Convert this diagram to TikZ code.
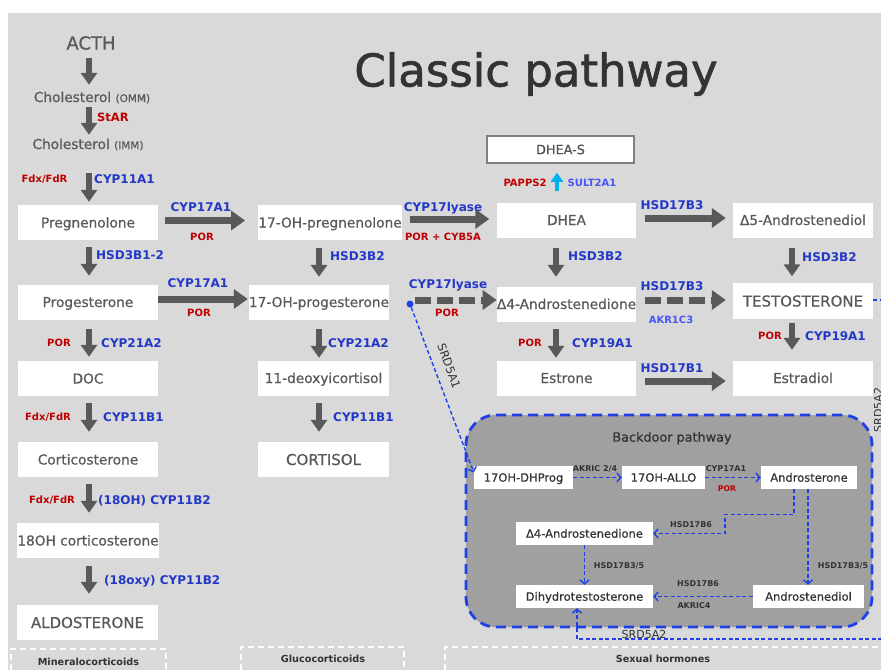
\documentclass[tikz,border=0pt]{standalone}
\usepackage{fontspec}
\setmainfont{DejaVu Sans}
\newfontfamily\medfont{DejaVu Sans}[FakeBold=0.6]
\newfontfamily\heavyfont{DejaVu Sans}[FakeBold=1.4]
\usetikzlibrary{arrows.meta}
\definecolor{bggray}{HTML}{D9D9D9}
\definecolor{txt}{HTML}{595959}
\definecolor{dtxt}{HTML}{333333}
\definecolor{agray}{HTML}{595959}
\definecolor{lblue}{HTML}{2438C8}
\definecolor{sblue}{HTML}{4A55F5}
\definecolor{lred}{HTML}{C00000}
\definecolor{bdblue}{HTML}{1E40E6}
\definecolor{bdfill}{HTML}{A0A0A0}
\definecolor{cyanarr}{HTML}{00B0F0}
\definecolor{boxedge}{HTML}{7F7F7F}
\newcommand{\fsz}[1]{\fontsize{#1}{#1}\selectfont}
\begin{document}
\begin{tikzpicture}[x=1pt,y=-1pt,
  box/.style={fill=white, text=txt, inner sep=0pt, minimum width=140pt, minimum height=35pt, font=\medfont\fsz{13.7}, text height=10pt, text depth=0pt},
  bigbox/.style={box, font=\medfont\fsz{15}, text height=11pt},
  bbox/.style={fill=white, text=dtxt, inner sep=0pt, minimum height=23pt, font=\medfont\fsz{11.5}, text height=8.4pt, text depth=0pt},
  plain/.style={text=txt, inner sep=0pt, font=\medfont\fsz{13.7}, text height=10pt, text depth=0pt},
  blab/.style={text=lblue, inner sep=0pt, font=\bfseries\fsz{12}, text height=8.75pt, text depth=0pt},
  rlab/.style={text=lred, inner sep=0pt, font=\bfseries\fsz{10}, text height=7.3pt, text depth=0pt},
  slab/.style={text=dtxt, inner sep=0pt, font=\bfseries\fsz{8}, text height=5.8pt, text depth=0pt},
  catbox/.style={draw=white, line width=1.8pt, dash pattern=on 6pt off 4pt},
  cattext/.style={text=dtxt, inner sep=0pt, font=\bfseries\fsz{9.7}, text height=7pt, text depth=0pt},
  varr/.style={draw=agray, line width=6pt, -{Triangle[length=12pt,width=16pt]}},
  harr/.style={draw=agray, line width=7pt, -{Triangle[length=14pt,width=19pt]}},
  dharr/.style={harr, dash pattern=on 16pt off 6pt},
  barr/.style={draw=bdblue, line width=1.4pt, dash pattern=on 4pt off 2.5pt, -{Straight Barb[length=4pt,width=9pt]}}
]
\useasboundingbox (0,0) rectangle (881,670);
\fill[white] (0,0) rectangle (881,670);
\fill[bggray] (8,13) rectangle (881,670);

% title
\node[text=dtxt, font=\heavyfont\fsz{45}, inner sep=0pt, text height=32.8pt, text depth=0pt] (title) at (536,70) {Classic pathway};

% category boxes
\draw[catbox] (11,680) -- (11,649) -- (166,649) -- (166,680);
\node[cattext] (mineral) at (88.5,662) {Mineralocorticoids};
\draw[catbox] (241,680) -- (241,647) -- (404,647) -- (404,680);
\node[cattext] (gluco) at (323,659) {Glucocorticoids};
\draw[catbox] (445,680) -- (445,647) -- (890,647);
\node[cattext] (sexual) at (663,659) {Sexual hormones};

% backdoor container
\node[draw=bdblue, fill=bdfill, line width=2.8pt, dash pattern=on 10pt off 6pt, rounded corners=30pt, minimum width=406pt, minimum height=212pt, inner sep=0pt] (backdoor) at (669,521) {};
\node[text=dtxt, font=\medfont\fsz{12.8}, inner sep=0pt, text height=9.3pt, text depth=0pt] (bdtitle) at (672,437) {Backdoor pathway};

% left column
\node[plain, font=\medfont\fsz{18}, text height=13.1pt] (acth) at (91,43) {ACTH};
\node[plain] (chol1) at (92,97) {Cholesterol {\fsz{10.5}(OMM)}};
\node[plain] (chol2) at (88,144) {Cholesterol {\fsz{10.5}(IMM)}};
\node[box] (preg) at (88,222.5) {Pregnenolone};
\node[box] (prog) at (88,302) {Progesterone};
\node[box] (doc) at (88,378.5) {DOC};
\node[box] (cort) at (88,459.5) {Corticosterone};
\node[box] (oh18) at (88,540.5) {18OH corticosterone};
\node[bigbox, minimum width=141pt] (aldo) at (87.5,622.5) {ALDOSTERONE};

% middle column
\node[box] (ohpreg) at (330,222.5) {17-OH-pregnenolone};
\node[box] (ohprog) at (319,302) {17-OH-progesterone};
\node[box, minimum width=131pt] (deoxy) at (323.5,378) {11-deoxyicortisol};
\node[bigbox, minimum width=131pt] (cortisol) at (323.5,459.5) {CORTISOL};

% right part
\node[box, draw=boxedge, line width=1.5pt, minimum width=147pt, minimum height=27pt, font=\medfont\fsz{12.8}, text height=9.3pt, text=dtxt!85!white] (dheas) at (560.5,149.5) {DHEA-S};
\node[box, minimum width=139pt] (dhea) at (566.5,220) {DHEA};
\node[box] (d5) at (803,220) {Δ5-Androstenediol};
\node[box, minimum width=139pt] (d4) at (566.5,304) {Δ4-Androstenedione};
\node[bigbox, minimum height=36pt] (testo) at (803,301) {TESTOSTERONE};
\node[box, minimum width=139pt] (estrone) at (566.5,378) {Estrone};
\node[box] (estradiol) at (803,378) {Estradiol};

% backdoor nodes
\node[bbox, minimum width=99pt] (dhprog) at (523.5,477.5) {17OH-DHProg};
\node[bbox, minimum width=83pt] (allo) at (663.5,477.5) {17OH-ALLO};
\node[bbox, minimum width=96pt] (andro) at (809,477.5) {Androsterone};
\node[bbox, minimum width=137pt] (d4b) at (584.5,533.5) {Δ4-Androstenedione};
\node[bbox, minimum width=137pt] (dht) at (584.5,596.5) {Dihydrotestosterone};
\node[bbox, minimum width=111pt] (andiol) at (808.5,596.5) {Androstenediol};
\node[circle, fill=bdblue, inner sep=0pt, minimum size=7pt] (dot) at (410,304) {};

% labels left
\node[rlab, anchor=west, font=\bfseries\fsz{11.5}, text height=8.4pt] (l1) at (97,117) {StAR};
\node[rlab] (l2) at (44.5,179) {Fdx/FdR};
\node[blab, anchor=west] (l3) at (94,179) {CYP11A1};
\node[blab] (l4) at (201,207) {CYP17A1};
\node[rlab] (l5) at (202,237) {POR};
\node[blab, anchor=west] (l6) at (96,255) {HSD3B1-2};
\node[blab] (l7) at (198,283) {CYP17A1};
\node[rlab] (l8) at (199,313) {POR};
\node[rlab] (l9) at (59,343) {POR};
\node[blab, anchor=west] (l10) at (101,343) {CYP21A2};
\node[rlab] (l11) at (48,417) {Fdx/FdR};
\node[blab, anchor=west] (l12) at (103,417) {CYP11B1};
\node[rlab] (l13) at (52,500) {Fdx/FdR};
\node[blab, anchor=west] (l14) at (98,500) {(18OH) CYP11B2};
\node[blab, anchor=west] (l15) at (104,580) {(18oxy) CYP11B2};

% labels middle
\node[blab, anchor=west] (m1) at (330,256) {HSD3B2};
\node[blab, anchor=west] (m2) at (328,343) {CYP21A2};
\node[blab, anchor=west] (m3) at (333,417) {CYP11B1};
\node[blab] (m4) at (443,207) {CYP17lyase};
\node[rlab] (m5) at (443,237) {POR + CYB5A};
\node[blab] (m6) at (448,284) {CYP17lyase};
\node[rlab] (m7) at (447,313) {POR};
\node[text=dtxt, font=\fsz{11.5}, inner sep=0pt, rotate=-70] (m8) at (449,366) {SRD5A1};

% labels right
\node[rlab] (r1) at (525,183) {PAPPS2};
\node[rlab, text=sblue] (r2) at (592,183) {SULT2A1};
\node[blab] (r3) at (672,205) {HSD17B3};
\node[blab, anchor=west] (r4) at (568,256) {HSD3B2};
\node[blab, anchor=west] (r5) at (802,257) {HSD3B2};
\node[blab] (r6) at (672,286) {HSD17B3};
\node[rlab, text=sblue] (r7) at (671,320) {AKR1C3};
\node[rlab] (r8) at (530,343) {POR};
\node[blab, anchor=west] (r9) at (572,343) {CYP19A1};
\node[blab] (r10) at (672,368) {HSD17B1};
\node[rlab] (r11) at (770,336) {POR};
\node[blab, anchor=west] (r12) at (805,336) {CYP19A1};
\node[text=dtxt, font=\fsz{11}, inner sep=0pt, rotate=90] (r13) at (878,410) {SRD5A2};

% labels backdoor
\node[slab] (b1) at (595,469) {AKRIC 2/4};
\node[slab] (b2) at (726,469) {CYP17A1};
\node[rlab, font=\bfseries\fsz{7.8}, text height=5.7pt] (b3) at (727,489) {POR};
\node[slab] (b4) at (691,525) {HSD17B6};
\node[slab] (b5) at (619,566) {HSD17B3/5};
\node[slab] (b6) at (843,566) {HSD17B3/5};
\node[slab] (b7) at (698,584) {HSD17B6};
\node[slab] (b8) at (694,606) {AKRIC4};
\node[text=dtxt, font=\fsz{11}, inner sep=0pt, text height=8pt, text depth=0pt] (b9) at (644,634) {SRD5A2};

% vertical arrows left
\draw[varr] ([xshift=-2pt,yshift=-8.5pt]acth.south) -- ([xshift=-3pt,yshift=7pt]chol1.north);
\draw[varr] ([xshift=-3pt,yshift=-5pt]chol1.south) -- ([xshift=1pt,yshift=4pt]chol2.north);
\draw[varr] ([xshift=1pt,yshift=-24pt]chol2.south) -- ([xshift=1pt,yshift=3pt]preg.north);
\draw[varr] ([xshift=1pt,yshift=-7pt]preg.south) -- ([xshift=1pt,yshift=8.5pt]prog.north);
\draw[varr] ([xshift=1pt,yshift=-9.5pt]prog.south) -- ([xshift=1pt,yshift=4pt]doc.north);
\draw[varr] ([xshift=1pt,yshift=-7pt]doc.south) -- ([xshift=1pt,yshift=10pt]cort.north);
\draw[varr] ([xshift=1pt,yshift=-7pt]cort.south) -- ([xshift=1pt,yshift=10pt]oh18.north);
\draw[varr] ([xshift=1pt,yshift=-8pt]oh18.south) -- ([xshift=1.5pt,yshift=11pt]aldo.north);

% vertical arrows middle
\draw[varr] ([xshift=-11pt,yshift=-8pt]ohpreg.south) -- ([yshift=7.5pt]ohprog.north);
\draw[varr] ([yshift=-9.5pt]ohprog.south) -- ([xshift=-4.5pt,yshift=2.5pt]deoxy.north);
\draw[varr] ([xshift=-4.5pt,yshift=-7.5pt]deoxy.south) -- ([xshift=-4.5pt,yshift=10pt]cortisol.north);

% vertical arrows right
\draw[varr] ([xshift=-10.5pt,yshift=-10.5pt]dhea.south) -- ([xshift=-10.5pt,yshift=9.5pt]d4.north);
\draw[varr] ([xshift=-10.5pt,yshift=-7.5pt]d4.south) -- ([xshift=-10.5pt,yshift=2.5pt]estrone.north);
\draw[varr] ([xshift=-11pt,yshift=-10.5pt]d5.south) -- ([xshift=-11pt,yshift=6.5pt]testo.north);
\draw[varr] ([xshift=-11pt,yshift=-3.5pt]testo.south) -- ([xshift=-11pt,yshift=10.5pt]estradiol.north);
\draw[draw=cyanarr, line width=4pt, -{Triangle[length=9pt,width=12pt]}] ([xshift=-9.5pt,yshift=11pt]dhea.north) -- ([xshift=-3.5pt,yshift=-9pt]dheas.south);

% horizontal arrows
\draw[harr] ([xshift=7pt,yshift=2pt]preg.east) -- ([xshift=-13pt,yshift=2pt]ohpreg.west);
\draw[harr] ([yshift=3pt]prog.east) -- ([xshift=-1pt,yshift=3pt]ohprog.west);
\draw[harr] ([xshift=8pt,yshift=3.5pt]ohpreg.east) -- ([xshift=-7.5pt,yshift=1pt]dhea.west);
\draw[harr] ([xshift=8.5pt,yshift=2pt]dhea.east) -- ([xshift=-7pt,yshift=2pt]d5.west);
\draw[dharr] ([xshift=26pt,yshift=2pt]ohprog.east) -- ([yshift=4pt]d4.west);
\draw[dharr] ([xshift=8.5pt,yshift=4pt]d4.east) -- ([xshift=-7pt,yshift=1pt]testo.west);
\draw[harr] ([xshift=8.5pt,yshift=-3pt]estrone.east) -- ([xshift=-7pt,yshift=-3pt]estradiol.west);

% backdoor arrows
\draw[barr] (dot) -- ([yshift=5pt]dhprog.west);
\draw[barr] (dhprog.east) -- (allo.west);
\draw[barr] (allo.east) -- (andro.west);
\draw[barr] ([xshift=-15pt]andro.south) -- ++(0,25) -- ++(-69,0) |- (d4b.east);
\draw[barr] ([xshift=-1pt]andro.south) -- ([xshift=-0.5pt]andiol.north);
\draw[barr] (d4b.south) -- (dht.north);
\draw[barr] (andiol.west) -- (dht.east);
\draw[barr] ([yshift=1pt]testo.east) -- ++(17,0) -- ++(0,339) -| ([xshift=-7.5pt]dht.south);
\end{tikzpicture}
\end{document}
